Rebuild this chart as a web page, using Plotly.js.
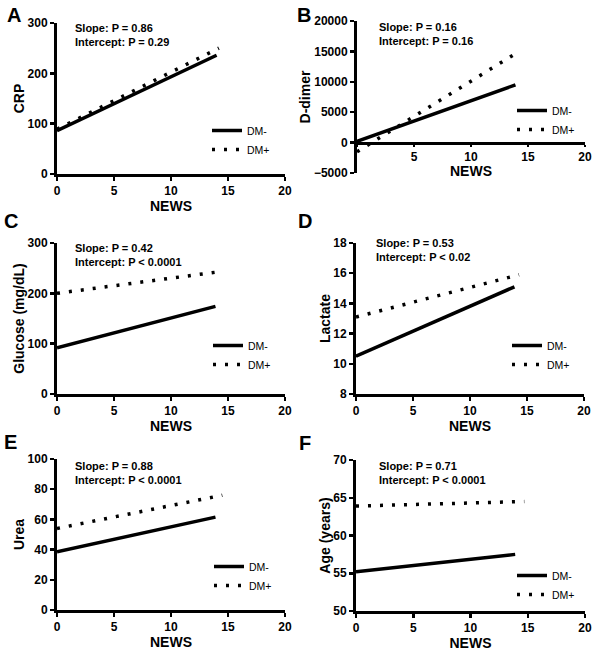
<!DOCTYPE html>
<html>
<head>
<meta charset="utf-8">
<script src="https://cdn.plot.ly/plotly-3.0.1.min.js"></script>
<style>body{margin:0;background:#fff}#chart{width:600px;height:652px}</style>
</head>
<body>
<div id="chart"></div>
<script>
var xTicks = [0, 5, 10, 15, 20];
var newsLabel = "NEWS";

// A: CRP
var crpMinusX = [0, 14], crpMinusY = [86, 236];
var crpPlusX = [0, 14.2], crpPlusY = [89, 250];
// B: D-dimer
var ddMinusX = [0, 13.9], ddMinusY = [200, 9500];
var ddPlusX = [0, 14.3], ddPlusY = [-1500, 15100];
// C: Glucose
var gluMinusX = [0, 13.9], gluMinusY = [92, 174];
var gluPlusX = [0, 14.6], gluPlusY = [200, 244];
// D: Lactate
var lacMinusX = [0, 13.9], lacMinusY = [10.5, 15.1];
var lacPlusX = [0, 14.3], lacPlusY = [13.1, 15.9];
// E: Urea
var ureaMinusX = [0, 13.9], ureaMinusY = [38.5, 61.5];
var ureaPlusX = [0, 14.5], ureaPlusY = [54, 76];
// F: Age
var ageMinusX = [0, 13.9], ageMinusY = [55.2, 57.5];
var agePlusX = [0, 14.7], agePlusY = [63.9, 64.5];

var letters = ["A", "B", "C", "D", "E", "F"];
var yTitles = ["CRP", "D-dimer", "Glucose (mg/dL)", "Lactate", "Urea", "Age (years)"];
var yRanges = [[0, 300], [-5000, 20000], [0, 300], [8, 18], [0, 100], [50, 70]];
var yTicks = [
    [0, 100, 200, 300],
    [-5000, 0, 5000, 10000, 15000, 20000],
    [0, 100, 200, 300],
    [8, 10, 12, 14, 16, 18],
    [0, 20, 40, 60, 80, 100],
    [50, 55, 60, 65, 70]
];
var slopeText = ["Slope: P = 0.86", "Slope: P = 0.16", "Slope: P = 0.42",
                 "Slope: P = 0.53", "Slope: P = 0.88", "Slope: P = 0.71"];
var interceptText = ["Intercept: P = 0.29", "Intercept: P = 0.16", "Intercept: P < 0.0001",
                     "Intercept: P < 0.02", "Intercept: P < 0.0001", "Intercept: P < 0.0001"];
var seriesNames = ["DM-", "DM+"];

var minusX = [crpMinusX, ddMinusX, gluMinusX, lacMinusX, ureaMinusX, ageMinusX];
var minusY = [crpMinusY, ddMinusY, gluMinusY, lacMinusY, ureaMinusY, ageMinusY];
var plusX = [crpPlusX, ddPlusX, gluPlusX, lacPlusX, ureaPlusX, agePlusX];
var plusY = [crpPlusY, ddPlusY, gluPlusY, lacPlusY, ureaPlusY, agePlusY];

var W = 600, H = 652;
var fx = function (px) { return px / W; };
var fy = function (px) { return 1 - px / H; };

// pixel boxes of each plot area [left, right, top, bottom]
var boxes = [
    [57, 285, 23, 174],
    [357, 585, 21, 173],
    [57, 285, 243, 394],
    [356, 584, 243, 394],
    [57, 285, 459, 610],
    [356, 585, 460, 611]
];
var letterPos = [[14, 15], [304, 15], [11, 221], [305, 221], [10, 442], [305, 443]];
var statPos = [[73, 28], [377, 27], [73, 248], [374, 243], [73, 466], [377, 466]];
var legendPos = [[207, 116], [512, 96], [208, 331], [507, 331], [209, 552], [512, 561]];

var font = "Arial, 'Liberation Sans', sans-serif";
var data = [];
var layout = {
    width: W, height: H,
    margin: {l: 0, r: 0, t: 0, b: 0},
    paper_bgcolor: "#fff", plot_bgcolor: "rgba(0,0,0,0)",
    font: {family: font, color: "#000"},
    showlegend: true,
    annotations: []
};

for (var i = 0; i < 6; i++) {
    var n = i === 0 ? "" : String(i + 1);
    var b = boxes[i];
    var lg = "legend" + n;
    data.push({
        x: minusX[i], y: minusY[i], xaxis: "x" + n, yaxis: "y" + n,
        mode: "lines", name: seriesNames[0], legend: lg,
        line: {color: "#000", width: 3.5}
    });
    data.push({
        x: plusX[i], y: plusY[i], xaxis: "x" + n, yaxis: "y" + n,
        mode: "lines", name: seriesNames[1], legend: lg,
        line: {color: "#000", width: 3.5, dash: "3px,9px"}
    });

    var yDom = [fy(b[3]), fy(b[2])];
    var xax = {
        domain: [fx(b[0]), fx(b[1])], range: [0, 20], anchor: "y" + n,
        tickvals: xTicks, ticks: "outside", ticklen: 4, tickwidth: 2.5,
        showline: true, linewidth: 3, linecolor: "#000", tickcolor: "#000",
        showgrid: false, zeroline: false, fixedrange: true,
        tickfont: {size: 12, weight: "bold", family: font},
        title: {text: newsLabel, font: {size: 14, weight: "bold", family: font}, standoff: 3}
    };
    if (i === 1) {
        // x axis crosses at y = 0, title sits closer than in the other panels
        var r = yRanges[i];
        xax.anchor = "free";
        xax.position = yDom[0] + (0 - r[0]) / (r[1] - r[0]) * (yDom[1] - yDom[0]);
        xax.ticktext = xTicks.map(function (t) { return t === 0 ? "" : String(t); });
        xax.ticklen = 2;
        xax.title = {text: ""};
        layout.annotations.push({
            xref: "paper", yref: "paper", x: fx(471), y: fy(171),
            xanchor: "center", yanchor: "middle", showarrow: false, text: newsLabel,
            font: {size: 14, weight: "bold", family: font}
        });
    }
    layout["xaxis" + n] = xax;
    layout["yaxis" + n] = {
        domain: yDom, range: yRanges[i], anchor: "x" + n,
        tickvals: yTicks[i], tickformat: "d", ticks: "outside", ticklen: 4, tickwidth: 2.5,
        showline: true, linewidth: 3, linecolor: "#000", tickcolor: "#000",
        showgrid: false, zeroline: false, fixedrange: true,
        tickfont: {size: 12, weight: "bold", family: font},
        title: {text: yTitles[i], font: {size: 14, weight: "bold", family: font}, standoff: 0}
    };
    layout[lg] = {
        x: fx(legendPos[i][0]), y: fy(legendPos[i][1]), xanchor: "left", yanchor: "top",
        bgcolor: "rgba(0,0,0,0)", borderwidth: 0, tracegroupgap: 0,
        font: {size: 10.5, family: font}
    };
    layout.annotations.push({
        xref: "paper", yref: "paper", x: fx(letterPos[i][0]), y: fy(letterPos[i][1]),
        xanchor: "center", yanchor: "middle", showarrow: false, text: letters[i],
        font: {size: 20, weight: "bold", family: font}
    });
    layout.annotations.push({
        xref: "paper", yref: "paper", x: fx(statPos[i][0]), y: fy(statPos[i][1]),
        xanchor: "left", yanchor: "middle", showarrow: false, text: slopeText[i],
        font: {size: 11, weight: "bold", family: font}
    });
    layout.annotations.push({
        xref: "paper", yref: "paper", x: fx(statPos[i][0]), y: fy(statPos[i][1] + 13.5),
        xanchor: "left", yanchor: "middle", showarrow: false, text: interceptText[i],
        font: {size: 11, weight: "bold", family: font}
    });
}

Plotly.newPlot("chart", data, layout, {staticPlot: true});
</script>
</body>
</html>
